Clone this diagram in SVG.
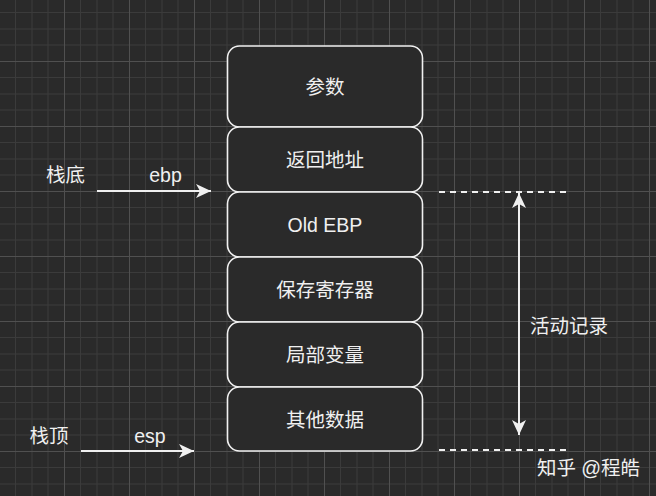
<svg xmlns="http://www.w3.org/2000/svg" width="656" height="496" viewBox="0 0 656 496">
<defs>
<pattern id="grid" x="64" y="61" width="65" height="65" patternUnits="userSpaceOnUse">
<rect width="65" height="65" fill="#2a2a2a"/>
<g fill="#3b3b3b">
<rect x="16" y="0" width="1" height="65"/><rect x="32.5" y="0" width="1" height="65"/><rect x="48.5" y="0" width="1" height="65"/>
<rect x="0" y="16" width="65" height="1"/><rect x="0" y="32.5" width="65" height="1"/><rect x="0" y="48.5" width="65" height="1"/>
</g>
<g fill="#505050"><rect x="0" y="0" width="1" height="65"/><rect x="0" y="0" width="65" height="1"/></g>
</pattern>
<marker id="ah" viewBox="0 0 16 14" refX="15" refY="7" markerWidth="16" markerHeight="14" markerUnits="userSpaceOnUse" orient="auto-start-reverse">
<path d="M15 7 L0 0 L4 7 L0 14 Z" fill="#f0f0f0"/>
</marker>
<style>
.box{fill:#2a2a2a;stroke:#f0f0f0;stroke-width:1.6}
.t{font-family:"Liberation Sans","Noto Sans CJK SC",sans-serif;font-size:19.5px;fill:#f0f0f0;text-anchor:middle;dominant-baseline:central}
.ln{stroke:#f0f0f0;stroke-width:2;fill:none}
.dash{stroke:#f0f0f0;stroke-width:2;stroke-dasharray:6 5;fill:none}
</style>
</defs>
<rect width="656" height="496" fill="url(#grid)"/>
<g id="n1"><rect class="box" x="227.5" y="46" width="195" height="81" rx="12"/><text class="t" x="325" y="87">参数</text></g>
<g id="n2"><rect class="box" x="227.5" y="127" width="195" height="65" rx="12"/><text class="t" x="325" y="159.5">返回地址</text></g>
<g id="n3"><rect class="box" x="227.5" y="192" width="195" height="65" rx="12"/><text class="t" x="325" y="224.5">Old EBP</text></g>
<g id="n4"><rect class="box" x="227.5" y="257" width="195" height="65" rx="12"/><text class="t" x="325" y="289.5">保存寄存器</text></g>
<g id="n5"><rect class="box" x="227.5" y="322" width="195" height="65" rx="12"/><text class="t" x="325" y="354.5">局部变量</text></g>
<g id="n6"><rect class="box" x="227.5" y="387" width="195" height="64" rx="12"/><text class="t" x="325" y="419.5">其他数据</text></g>
<g id="labels">
<text class="t" x="65.5" y="175">栈底</text>
<text class="t" x="165.5" y="175">ebp</text>
<text class="t" x="49" y="436">栈顶</text>
<text class="t" x="150" y="436">esp</text>
<text class="t" x="569" y="326">活动记录</text>
<text class="t" x="588.5" y="468" style="font-size:19.5px">知乎 @程皓</text>
</g>
<g id="connectors">
<line class="ln" x1="97" y1="191" x2="211" y2="191" marker-end="url(#ah)"/>
<line class="ln" x1="81" y1="451" x2="194" y2="451" marker-end="url(#ah)"/>
<line class="ln" x1="519" y1="193" x2="519" y2="435" marker-start="url(#ah)" marker-end="url(#ah)"/>
<line class="dash" x1="439" y1="192" x2="569" y2="192"/>
<line class="dash" x1="439" y1="450" x2="569" y2="450"/>
</g>
</svg>
